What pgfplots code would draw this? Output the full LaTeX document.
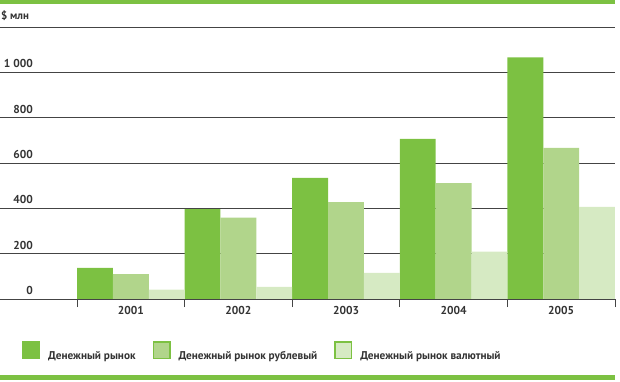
\documentclass[border=0pt]{standalone}
\usepackage{fontspec}
\setmainfont{PT Sans}
\usepackage{pgfplots}
\pgfplotsset{compat=1.18}
\definecolor{g1}{HTML}{7CC142}
\definecolor{g2}{HTML}{B1D58B}
\definecolor{g3}{HTML}{D6EAC3}
\definecolor{txt}{HTML}{333333}
\definecolor{gridc}{HTML}{444444}
\begin{document}
\begin{tikzpicture}
\useasboundingbox (0bp,0bp) rectangle (620bp,382bp);
\fill[g1] (0bp,378bp) rectangle (615bp,382bp);
\fill[g1] (0bp,2bp) rectangle (615bp,7bp);
\begin{axis}[
  at={(0bp,83bp)}, anchor=south west,
  width=615bp, height=272bp, scale only axis,
  xmin=-0.716, xmax=5, ymin=0, ymax=1200,
  axis line style={draw=none},
  ymajorgrids, grid style={draw=gridc, line width=0.9pt},
  ytick={0,200,...,1200}, yticklabels={0,200,400,600,800,1 000,{}},
  yticklabel style={anchor=south east, inner sep=0pt, xshift=33bp, yshift=4bp, font=\fontsize{11.5}{13}\selectfont\bfseries, text=txt},
  xtick={0.5,1.5,2.5,3.5,4.5}, xticklabels={2001,2002,2003,2004,2005},
  xticklabel style={font=\fontsize{11.5}{13}\selectfont\bfseries, text=txt, yshift=-4bp},
  minor xtick={0,1,2,3,4,5},
  major tick length=0pt, minor tick length=8bp, tick align=outside,
  xtick pos=lower, ytick pos=left,
  minor tick style={draw=gridc, line width=0.9pt},
  ybar, bar width=0.3333,
  legend columns=3,
  legend style={at={(axis description cs:0.0358,-0.237)}, anchor=south west, draw=none, fill=none, inner sep=0pt,
    font=\fontsize{11.3}{12}\selectfont\bfseries, text=txt,
    nodes={inner xsep=1bp},
    /tikz/every odd column/.append style={column sep=7bp},
    /tikz/every even column/.append style={column sep=16bp}},
]
\addplot[fill=g1, draw=none, bar shift=0pt,
  legend image code/.code={\fill[g1] (0bp,-3bp) rectangle (18bp,15bp);}]
  coordinates {(0.1667,137) (1.1667,397) (2.1667,534) (3.1667,706) (4.1667,1066)};
\addlegendentry{Денежный рынок}
\addplot[fill=g2, draw=none, bar shift=0pt,
  legend image code/.code={\draw[fill=g2, draw=g1, line width=1.2bp] (0.6bp,-2.4bp) rectangle (17.4bp,14.4bp);}]
  coordinates {(0.5,110) (1.5,359) (2.5,427) (3.5,511) (4.5,667)};
\addlegendentry{Денежный рынок рублевый}
\addplot[fill=g3, draw=none, bar shift=0pt,
  legend image code/.code={\draw[fill=g3, draw=g1, line width=1.2bp] (0.6bp,-2.4bp) rectangle (17.4bp,14.4bp);}]
  coordinates {(0.8333,41) (1.8333,53) (2.8333,115) (3.8333,209) (4.8333,406)};
\addlegendentry{Денежный рынок валютный}
\end{axis}
\node[anchor=base west, inner sep=0pt, font=\fontsize{11}{13}\selectfont\bfseries, text=txt] at (1bp,362bp) {\$ млн};
\end{tikzpicture}
\end{document}
